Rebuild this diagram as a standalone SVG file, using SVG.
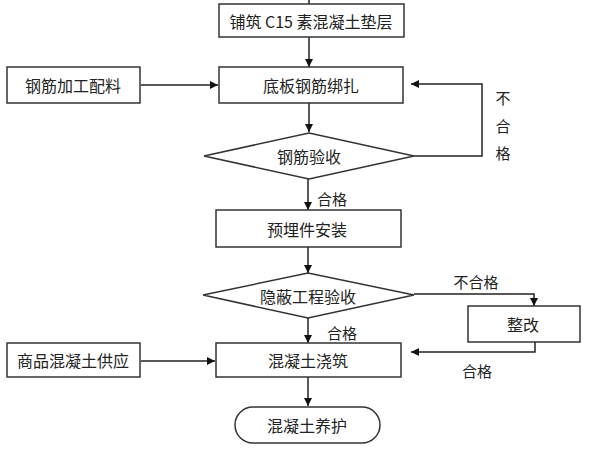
<svg xmlns="http://www.w3.org/2000/svg" width="600" height="450" viewBox="0 0 600 450">
<defs>
<style>
.box{fill:#fff;stroke:#333;stroke-width:1.5}
.ln{fill:none;stroke:#222;stroke-width:1.5}
.t{font-family:"Noto Sans CJK SC","Noto Sans",sans-serif;font-size:16px;fill:#222;text-anchor:middle;dominant-baseline:central}
.s{font-size:15px}
</style>
<marker id="ar" viewBox="0 0 10 10" refX="10" refY="5" markerWidth="8" markerHeight="8" markerUnits="userSpaceOnUse" orient="auto">
<path d="M0,0 L10,5 L0,10 z" fill="#111"/>
</marker>
</defs>
<rect width="600" height="450" fill="#fff"/>
<g id="connectors">
<line class="ln" x1="309" y1="0" x2="309" y2="4"/>
<line class="ln" x1="309" y1="37" x2="309" y2="67" marker-end="url(#ar)"/>
<line class="ln" x1="141" y1="85" x2="218" y2="85" marker-end="url(#ar)"/>
<line class="ln" x1="309" y1="103" x2="309" y2="132" marker-end="url(#ar)"/>
<polyline class="ln" points="414,156 482,156 482,84 411,84" marker-end="url(#ar)"/>
<line class="ln" x1="308" y1="179" x2="308" y2="210" marker-end="url(#ar)"/>
<line class="ln" x1="308" y1="247" x2="308" y2="273" marker-end="url(#ar)"/>
<line class="ln" x1="308" y1="318" x2="308" y2="343" marker-end="url(#ar)"/>
<polyline class="ln" points="414,294 534,294 534,306" marker-end="url(#ar)"/>
<polyline class="ln" points="535,342 535,352 411,352" marker-end="url(#ar)"/>
<line class="ln" x1="141" y1="361" x2="215" y2="361" marker-end="url(#ar)"/>
<line class="ln" x1="308" y1="377" x2="308" y2="406" marker-end="url(#ar)"/>
<text class="t s" x="503" y="97">不</text>
<text class="t s" x="503" y="125">合</text>
<text class="t s" x="503" y="152">格</text>
<text class="t s" x="332" y="198">合格</text>
<text class="t s" x="342" y="332">合格</text>
<text class="t s" x="476" y="281">不合格</text>
<text class="t s" x="477" y="370">合格</text>
</g>
<g id="n1"><rect class="box" x="219" y="4" width="185" height="33"/><text class="t" x="311" y="20.5">铺筑 C15 素混凝土垫层</text></g>
<g id="n2"><rect class="box" x="219" y="67" width="184" height="36"/><text class="t" x="311" y="85">底板钢筋绑扎</text></g>
<g id="n3"><rect class="box" x="7" y="67" width="133" height="36"/><text class="t" x="73" y="85">钢筋加工配料</text></g>
<g id="n4"><polygon class="box" points="204,156 309,133 414,156 309,179"/><text class="t" x="309" y="156">钢筋验收</text></g>
<g id="n5"><rect class="box" x="216" y="210" width="185" height="37"/><text class="t" x="307" y="229">预埋件安装</text></g>
<g id="n6"><polygon class="box" points="203,295 308,273 414,295 308,318"/><text class="t" x="308" y="296">隐蔽工程验收</text></g>
<g id="n7"><rect class="box" x="468" y="306" width="112" height="36"/><text class="t" x="523" y="324">整改</text></g>
<g id="n8"><rect class="box" x="216" y="343" width="185" height="34"/><text class="t" x="308" y="360">混凝土浇筑</text></g>
<g id="n9"><rect class="box" x="7" y="343" width="133" height="34"/><text class="t" x="73" y="360">商品混凝土供应</text></g>
<g id="n10"><rect class="box" x="235" y="407" width="145" height="36" rx="18" ry="18"/><text class="t" x="307" y="425">混凝土养护</text></g>
</svg>
